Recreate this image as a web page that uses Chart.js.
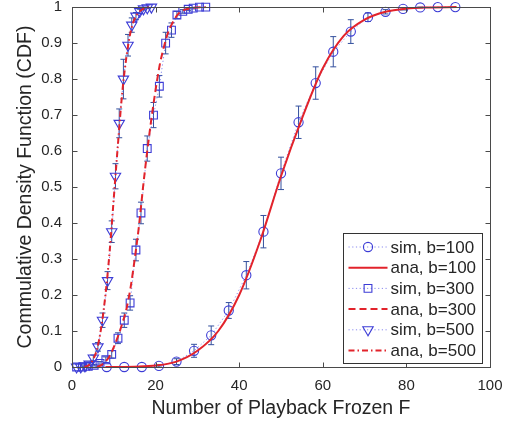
<!DOCTYPE html>
<html><head><meta charset="utf-8">
<script src="https://cdn.jsdelivr.net/npm/chart.js@4.4.1/dist/chart.umd.min.js"></script>
<style>html,body{margin:0;padding:0;background:#fff}#wrap{width:518px;height:426px;position:relative}</style>
</head><body><div id="wrap"><canvas id="c"></canvas></div>
<script>
// ---- data ----
const xTicks = [0, 20, 40, 60, 80, 100];
const yTicks = [0, 0.1, 0.2, 0.3, 0.4, 0.5, 0.6, 0.7, 0.8, 0.9, 1];
const labels = ["sim, b=100", "ana, b=100", "sim, b=300", "ana, b=300", "sim, b=500", "ana, b=500"];

const sim100X = [8.3, 12.5, 16.7, 20.8, 25, 29.2, 33.3, 37.5, 41.7, 45.8, 50, 54.2, 58.3, 62.5, 66.7, 70.8, 75, 79.2, 83.3, 87.5, 91.7];
const sim100Y = [0, 0, 0, 0.003, 0.015, 0.045, 0.088, 0.157, 0.255, 0.376, 0.538, 0.680, 0.789, 0.876, 0.932, 0.972, 0.987, 0.995, 0.999, 1, 1];
const sim100E = [0, 0, 0, 0.003, 0.008, 0.018, 0.026, 0.022, 0.038, 0.045, 0.045, 0.045, 0.045, 0.042, 0.033, 0.012, 0.006, 0.003, 0.001, 0, 0];

const ana100X = [8, 10, 15, 20, 25, 30, 35, 40, 45, 50, 55, 60, 65, 70, 75, 80, 85, 92];
const ana100Y = [0, 0, 0.001, 0.004, 0.015, 0.045, 0.10, 0.20, 0.35, 0.53, 0.69, 0.83, 0.92, 0.965, 0.987, 0.996, 0.999, 1];

const sim300X = [1.1, 2.5, 3.9, 5.3, 6.7, 8.1, 9.5, 11.0, 12.5, 13.9, 15.3, 16.5, 18.0, 19.5, 20.9, 22.4, 23.8, 25.1, 26.5, 27.8, 29.0, 30.5, 32.0];
const sim300Y = [0, 0, 0.002, 0.005, 0.01, 0.02, 0.035, 0.08, 0.13, 0.178, 0.325, 0.428, 0.607, 0.70, 0.78, 0.90, 0.936, 0.978, 0.988, 0.994, 0.997, 1, 1];
const sim300E = [0, 0, 0, 0.002, 0.005, 0.008, 0.01, 0.015, 0.02, 0.02, 0.03, 0.03, 0.035, 0.035, 0.03, 0.03, 0.02, 0.01, 0.005, 0.003, 0.002, 0, 0];

const ana300X = [6, 7, 8, 9, 10, 11, 12, 13, 14, 15, 16, 17, 18, 19, 20, 21, 22, 23, 24, 25, 26, 28, 30, 32];
const ana300Y = [0, 0.005, 0.015, 0.03, 0.055, 0.085, 0.12, 0.16, 0.22, 0.30, 0.39, 0.50, 0.60, 0.69, 0.77, 0.84, 0.89, 0.93, 0.955, 0.975, 0.987, 0.996, 0.999, 1];

const sim500X = [1.1, 2.1, 3.1, 4.1, 5.1, 6.2, 7.3, 8.5, 9.5, 10.4, 11.3, 12.3, 13.4, 14.3, 15.3, 16.2, 17.1, 18.0, 19.0];
const sim500Y = [0, 0, 0.003, 0.008, 0.025, 0.056, 0.13, 0.24, 0.376, 0.53, 0.677, 0.80, 0.894, 0.95, 0.975, 0.988, 0.995, 0.998, 1];
const sim500E = [0, 0, 0.002, 0.004, 0.008, 0.012, 0.02, 0.025, 0.03, 0.035, 0.04, 0.055, 0.03, 0.02, 0.01, 0.006, 0.003, 0.001, 0];

const ana500X = [3, 4, 5, 6, 7, 8, 9, 10, 11, 12, 13, 14, 15, 16, 17, 18, 19];
const ana500Y = [0, 0.005, 0.02, 0.05, 0.11, 0.20, 0.32, 0.47, 0.62, 0.76, 0.86, 0.93, 0.968, 0.986, 0.995, 0.999, 1];

// ---- styles ----
const FONT = '"Liberation Sans", Arial, Helvetica, sans-serif';
const TEXT = '#262626';
const AXIS = '#4a4a4a';
const RED = '#e2232b';
const BLUE = '#3c3cd6';
const SIMLINE = 'rgba(110,110,235,0.8)';
const ERR = '#34509e';

const pts = (xs, ys) => xs.map((x, i) => ({x, y: ys[i]}));

function simSet(label, xs, ys, errs, style, radius, rot) {
  return {
    label, data: pts(xs, ys), errs,
    borderColor: SIMLINE, borderWidth: 1, borderDash: [1.2, 2.5],
    pointStyle: style, pointRadius: radius, pointRotation: rot,
    pointBorderColor: BLUE, pointBackgroundColor: 'rgba(0,0,0,0)', pointBorderWidth: 1.1,
    pointHoverRadius: radius, tension: 0, clip: false, order: 2, fill: false
  };
}
function anaSet(label, xs, ys, dash) {
  return {
    label, data: pts(xs, ys), borderColor: RED, borderWidth: 2, borderDash: dash,
    pointRadius: 0, cubicInterpolationMode: 'monotone', clip: false, order: 1, fill: false
  };
}

const datasets = [
  simSet(labels[0], sim100X, sim100Y, sim100E, 'circle', 4.6, 0),
  anaSet(labels[1], ana100X, ana100Y, []),
  simSet(labels[2], sim300X, sim300Y, sim300E, 'rect', 5.5, 0),
  anaSet(labels[3], ana300X, ana300Y, [7, 4]),
  simSet(labels[4], sim500X, sim500Y, sim500E, 'triangle', 6, 180),
  anaSet(labels[5], ana500X, ana500Y, [6, 3, 1.5, 3])
];

const errPlugin = {
  id: 'errbars',
  beforeDatasetsDraw(chart) {
    const {ctx, scales: {x, y}} = chart;
    const cap = 3;
    ctx.save();
    ctx.strokeStyle = ERR; ctx.lineWidth = 1;
    chart.data.datasets.forEach(ds => {
      if (!ds.errs) return;
      ds.data.forEach((p, i) => {
        const e = ds.errs[i]; if (!e) return;
        const px = x.getPixelForValue(p.x);
        const a = y.getPixelForValue(p.y - e), b = y.getPixelForValue(p.y + e);
        ctx.beginPath();
        ctx.moveTo(px, a); ctx.lineTo(px, b);
        ctx.moveTo(px - cap, a); ctx.lineTo(px + cap, a);
        ctx.moveTo(px - cap, b); ctx.lineTo(px + cap, b);
        ctx.stroke();
      });
    });
    ctx.restore();
  }
};

function drawMarker(ctx, style, x, y, r) {
  ctx.beginPath();
  if (style === 'circle') ctx.arc(x, y, r, 0, Math.PI * 2);
  else if (style === 'rect') { const s = Math.SQRT1_2 * r; ctx.rect(x - s, y - s, 2 * s, 2 * s); }
  else if (style === 'triangle') {
    ctx.moveTo(x, y + r);
    ctx.lineTo(x - r * Math.sin(Math.PI / 3), y - r * 0.5);
    ctx.lineTo(x + r * Math.sin(Math.PI / 3), y - r * 0.5);
    ctx.closePath();
  }
  ctx.stroke();
}

const framePlugin = {
  id: 'frame',
  afterDraw(chart) {
    const {ctx, chartArea: ca, scales: {x, y}} = chart;
    const L = Math.round(ca.left) + 0.5, R = Math.round(ca.right) + 0.5;
    const T = Math.round(ca.top) + 0.5, B = Math.round(ca.bottom) + 0.5;
    const tl = 5;
    ctx.save();
    ctx.strokeStyle = AXIS; ctx.lineWidth = 1;
    ctx.strokeRect(L, T, R - L, B - T);
    ctx.beginPath();
    x.ticks.forEach(t => {
      const px = Math.round(x.getPixelForValue(t.value)) + 0.5;
      ctx.moveTo(px, B); ctx.lineTo(px, B - tl);
      ctx.moveTo(px, T); ctx.lineTo(px, T + tl);
    });
    y.ticks.forEach(t => {
      const py = Math.round(y.getPixelForValue(t.value)) + 0.5;
      ctx.moveTo(L, py); ctx.lineTo(L + tl, py);
      ctx.moveTo(R, py); ctx.lineTo(R - tl, py);
    });
    ctx.stroke();

    // legend box inside the axes (bottom-right)
    const dsets = chart.data.datasets;
    const rowH = 20.7, w = 139, h = 130;
    const bx = Math.round(ca.right - 8) - w + 0.5, by = Math.round(ca.bottom - 4) - h + 0.5;
    ctx.fillStyle = '#fff';
    ctx.fillRect(bx, by, w, h);
    ctx.strokeStyle = '#333';
    ctx.strokeRect(bx, by, w, h);
    ctx.font = '17px ' + FONT;
    ctx.textBaseline = 'middle';
    ctx.textAlign = 'left';
    dsets.forEach((ds, i) => {
      const cy = by + 13.5 + i * rowH;
      const x0 = bx + 5, x1 = bx + 44;
      ctx.save();
      ctx.strokeStyle = ds.borderColor; ctx.lineWidth = ds.borderWidth;
      ctx.setLineDash(ds.borderDash || []);
      ctx.beginPath(); ctx.moveTo(x0, cy); ctx.lineTo(x1, cy); ctx.stroke();
      ctx.restore();
      if (ds.pointRadius) {
        ctx.save(); ctx.strokeStyle = ds.pointBorderColor; ctx.lineWidth = ds.pointBorderWidth;
        drawMarker(ctx, ds.pointStyle, (x0 + x1) / 2, cy, ds.pointRadius);
        ctx.restore();
      }
      ctx.fillStyle = TEXT;
      ctx.fillText(ds.label, bx + 47, cy + 1);
    });
    ctx.restore();
  }
};

new Chart(document.getElementById('c'), {
  type: 'line',
  data: {datasets},
  options: {
    responsive: true, maintainAspectRatio: false, devicePixelRatio: 1, animation: false,
    layout: {padding: {left: 0, right: 28, top: 7, bottom: 0}},
    plugins: {legend: {display: false}, tooltip: {enabled: false}},
    elements: {line: {borderCapStyle: 'butt'}},
    scales: {
      x: {
        type: 'linear', min: 0, max: 100,
        afterBuildTicks: s => { s.ticks = xTicks.map(v => ({value: v})); },
        afterFit: s => { s.height = 59; s.paddingLeft = 0; s.paddingRight = 0; },
        grid: {display: false, drawTicks: false},
        border: {display: false},
        ticks: {color: TEXT, font: {family: FONT, size: 15}, padding: 10, maxRotation: 0},
        title: {display: true, text: 'Number of Playback Frozen F', color: TEXT,
                font: {family: FONT, size: 19.5}, padding: {top: 0, bottom: 6}}
      },
      y: {
        type: 'linear', min: 0, max: 1,
        afterBuildTicks: s => { s.ticks = yTicks.map(v => ({value: v})); },
        afterFit: s => { s.width = 72; s.paddingTop = 0; s.paddingBottom = 0; },
        grid: {display: false, drawTicks: false},
        border: {display: false},
        ticks: {color: TEXT, font: {family: FONT, size: 15}, padding: 10,
                callback: v => String(Math.round(v * 10) / 10)},
        title: {display: true, text: 'Commulative Density Function (CDF)', color: TEXT,
                font: {family: FONT, size: 19.5}, padding: {top: 14, bottom: 0}}
      }
    }
  },
  plugins: [errPlugin, framePlugin]
});
</script></body></html>
